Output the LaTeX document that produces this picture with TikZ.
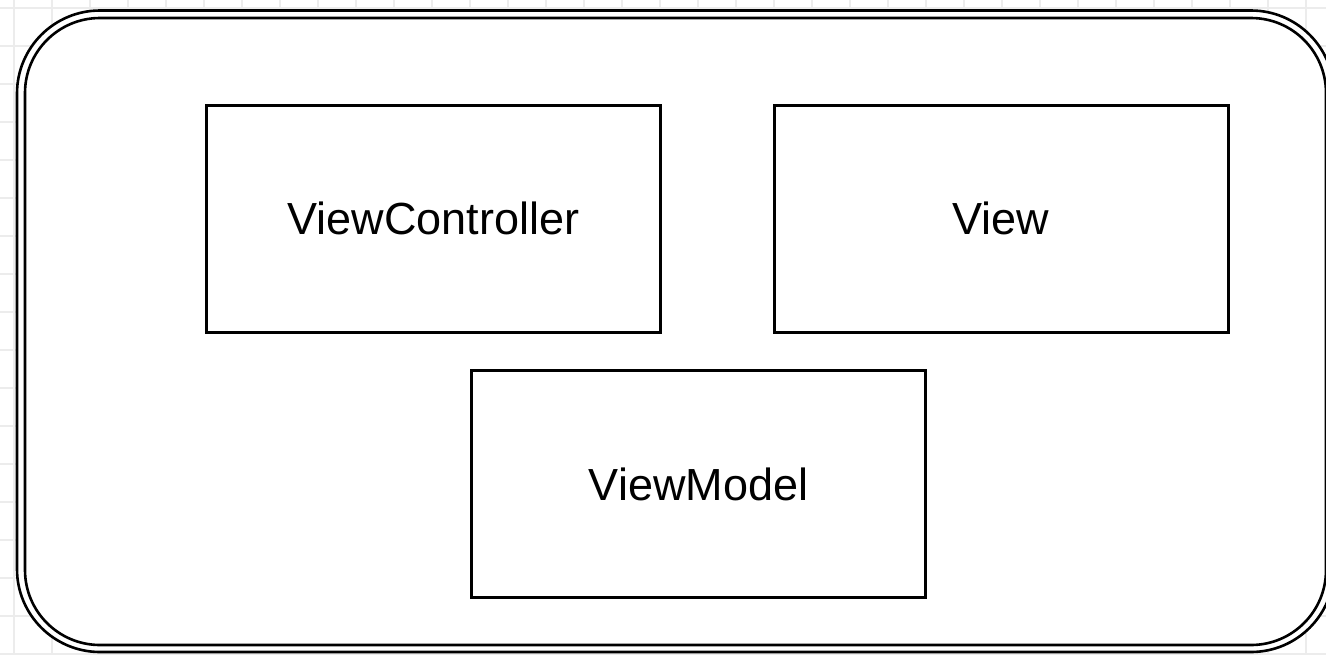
\documentclass[tikz,border=0pt]{standalone}
\usepackage{fontspec}
\setmainfont{Liberation Sans}
\usetikzlibrary{positioning,calc}

\begin{document}
\begin{tikzpicture}[x=0.5pt,y=-0.5pt,line width=1.5pt,
  block/.style={draw,minimum width=227pt,minimum height=113.5pt,inner sep=0pt,
    font=\fontsize{22.5}{27}\selectfont}]
\useasboundingbox (0,0) rectangle (1326,654);
\clip (0,0) rectangle (1326,654);
%the grid
\foreach \i in {0,...,34} {
\draw[line width=0.6pt,gray!15] ($(14,0)+(\i*38,0)$) to ($(14,654)+(\i*38,0)$);
}
\foreach \i in {0,...,17} {
\draw[line width=0.6pt,gray!15] ($(0,8)+(0,\i*38)$) to ($(1326,8)+(0,\i*38)$);
}
%the frame
\coordinate (F1) at (17,10.5);
\coordinate (F2) at (1334,652);
\coordinate (G1) at (25,18);
\coordinate (G2) at (1326,645);
\draw[line width=1.3pt,fill=white,rounded corners=41.5pt] (F1) rectangle (F2);
\draw[line width=1.3pt,rounded corners=37.5pt] (G1) rectangle (G2);
%blocks
\node[block] (VC) at (433.5,218.5) {ViewController};
\node[block] (V) at (1001,218.5) {View};
\node[block] (VM) at (698.5,484) {ViewModel};
\end{tikzpicture}
\end{document}
